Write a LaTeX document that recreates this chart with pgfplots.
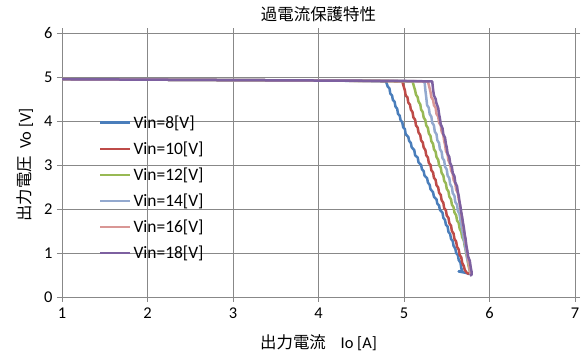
\documentclass[border=0pt]{standalone}
\usepackage{pgfplots}
\pgfplotsset{compat=1.18}
\usepackage{fontspec}
\setmainfont{Carlito}
\newfontfamily\cjk{Noto Sans CJK JP}
\definecolor{c8}{HTML}{4A7EBB}
\definecolor{c10}{HTML}{BE4B48}
\definecolor{c12}{HTML}{98B954}
\definecolor{c14}{HTML}{93A9CF}
\definecolor{c16}{HTML}{D99795}
\definecolor{c18}{HTML}{7D60A0}
\definecolor{gridc}{HTML}{888888}
\begin{document}
\begin{tikzpicture}
\useasboundingbox (0,0) rectangle (586bp,358bp);
\begin{axis}[
  at={(62bp,61bp)}, anchor=south west,
  scale only axis, width=513bp, height=264bp,
  xmin=1, xmax=7, ymin=0, ymax=6,
  xtick={1,...,7}, ytick={0,...,6},
  grid=major,
  major grid style={gridc, line width=0.9bp},
  axis line style={gridc, line width=0.9bp},
  tick style={gridc, line width=0.9bp},
  tick align=outside, major tick length=5bp,
  /pgf/number format/assume math mode=true,
  ticklabel style={font=\fontsize{16.5}{18}\selectfont},
  xticklabel style={yshift=-2bp},
  yticklabel style={xshift=-1bp},
  title={\cjk 過電流保護特性},
  title style={font=\fontsize{16.5}{18}\selectfont, at={(0.5,1)}, anchor=center, yshift=13bp},
  xlabel={\cjk 出力電流\hspace{0.9em}{\rmfamily Io [A]}},
  xlabel style={font=\fontsize{16.5}{18}\selectfont, at={(0.5,0)}, anchor=center, yshift=-46bp},
  ylabel={\cjk 出力電圧\hspace{0.45em}{\rmfamily Vo [V]}},
  ylabel style={font=\fontsize{16.5}{18}\selectfont, at={(0,0.5)}, anchor=center, yshift=37bp},
  legend style={draw=none, fill=none, at={(axis cs:1.43,4.17)}, anchor=north west,
    font=\fontsize{17.5}{19}\selectfont, row sep=8bp, inner sep=0pt},
  legend cell align=left,
  legend image code/.code={\draw[#1, line width=2.6bp] (0bp,0bp) -- (30bp,0bp);},
  every axis plot/.append style={line width=2.5bp, line join=round},
]
\addplot[c8] coordinates {
(1,4.95)(2,4.94)(3,4.93)(4,4.92)(4.6,4.91)(4.79,4.90)(4.81,4.78)(4.83,4.74)(4.84,4.62)(4.86,4.58)(4.87,4.48)(4.89,4.44)(4.90,4.33)(4.92,4.28)(4.93,4.16)(4.95,4.12)(4.96,4.02)(4.98,3.97)(4.99,3.86)(5.01,3.82)(5.02,3.70)(5.05,3.64)(5.06,3.55)(5.08,3.50)(5.09,3.40)(5.12,3.34)(5.13,3.22)(5.16,3.17)(5.17,3.06)(5.20,3.00)(5.21,2.90)(5.23,2.86)(5.24,2.76)(5.27,2.70)(5.28,2.60)(5.30,2.55)(5.31,2.45)(5.34,2.38)(5.35,2.28)(5.38,2.22)(5.39,2.12)(5.41,2.08)(5.42,1.98)(5.45,1.92)(5.46,1.80)(5.48,1.75)(5.49,1.64)(5.51,1.60)(5.52,1.48)(5.54,1.43)(5.55,1.32)(5.57,1.27)(5.58,1.16)(5.60,1.10)(5.61,1.00)(5.63,0.95)(5.64,0.84)(5.66,0.78)(5.67,0.66)(5.68,0.60)(5.64,0.58)(5.72,0.55)(5.77,0.52)};
\addlegendentry{Vin=8[V]}
\addplot[c10] coordinates {
(1,4.95)(2,4.94)(3,4.93)(4,4.92)(4.7,4.91)(4.98,4.90)(5.00,4.76)(5.01,4.70)(5.02,4.58)(5.04,4.54)(5.05,4.42)(5.07,4.37)(5.08,4.26)(5.10,4.20)(5.11,4.08)(5.13,4.03)(5.14,3.90)(5.16,3.85)(5.17,3.74)(5.19,3.68)(5.20,3.56)(5.22,3.51)(5.23,3.40)(5.25,3.34)(5.26,3.22)(5.28,3.17)(5.29,3.05)(5.31,3.00)(5.32,2.88)(5.34,2.83)(5.35,2.71)(5.37,2.66)(5.38,2.54)(5.40,2.49)(5.41,2.37)(5.43,2.32)(5.44,2.20)(5.46,2.14)(5.47,2.02)(5.49,1.97)(5.50,1.85)(5.52,1.80)(5.53,1.68)(5.55,1.62)(5.56,1.50)(5.58,1.44)(5.59,1.32)(5.61,1.26)(5.62,1.14)(5.64,1.08)(5.65,0.96)(5.67,0.90)(5.68,0.78)(5.70,0.70)(5.71,0.62)(5.73,0.56)(5.76,0.52)};
\addlegendentry{Vin=10[V]}
\addplot[c12] coordinates {
(1,4.95)(2,4.94)(3,4.93)(4,4.92)(4.8,4.91)(5.10,4.90)(5.12,4.76)(5.13,4.70)(5.14,4.60)(5.16,4.54)(5.17,4.44)(5.19,4.38)(5.20,4.26)(5.22,4.20)(5.23,4.08)(5.25,4.02)(5.26,3.90)(5.28,3.84)(5.29,3.72)(5.31,3.66)(5.32,3.54)(5.34,3.48)(5.35,3.36)(5.37,3.30)(5.38,3.18)(5.40,3.12)(5.41,3.00)(5.43,2.94)(5.44,2.82)(5.46,2.76)(5.47,2.64)(5.49,2.58)(5.50,2.46)(5.52,2.40)(5.53,2.28)(5.55,2.22)(5.56,2.10)(5.58,2.04)(5.59,1.92)(5.61,1.86)(5.62,1.74)(5.64,1.68)(5.65,1.56)(5.67,1.48)(5.68,1.36)(5.70,1.28)(5.71,1.16)(5.72,1.08)(5.73,0.96)(5.74,0.88)(5.75,0.76)(5.76,0.66)(5.77,0.58)(5.78,0.52)};
\addlegendentry{Vin=12[V]}
\addplot[c14] coordinates {
(1,4.95)(2,4.94)(3,4.93)(4,4.92)(4.9,4.91)(5.24,4.90)(5.25,4.70)(5.26,4.54)(5.27,4.36)(5.29,4.30)(5.30,4.16)(5.32,4.10)(5.33,3.96)(5.35,3.90)(5.36,3.76)(5.38,3.70)(5.39,3.56)(5.41,3.50)(5.42,3.36)(5.44,3.30)(5.45,3.16)(5.47,3.10)(5.48,2.96)(5.50,2.90)(5.51,2.76)(5.53,2.70)(5.54,2.56)(5.56,2.50)(5.57,2.36)(5.59,2.30)(5.60,2.16)(5.62,2.10)(5.63,1.96)(5.65,1.88)(5.66,1.74)(5.67,1.66)(5.68,1.52)(5.69,1.44)(5.70,1.30)(5.71,1.22)(5.72,1.08)(5.73,1.00)(5.74,0.86)(5.76,0.74)(5.77,0.62)(5.78,0.53)};
\addlegendentry{Vin=14[V]}
\addplot[c16] coordinates {
(1,4.95)(2,4.94)(3,4.93)(4,4.92)(4.9,4.91)(5.28,4.90)(5.30,4.74)(5.31,4.66)(5.32,4.54)(5.34,4.48)(5.35,4.36)(5.37,4.30)(5.38,4.16)(5.40,4.10)(5.41,3.96)(5.43,3.90)(5.44,3.76)(5.46,3.68)(5.47,3.54)(5.48,3.46)(5.49,3.32)(5.51,3.24)(5.52,3.10)(5.54,3.02)(5.55,2.88)(5.57,2.80)(5.58,2.66)(5.60,2.58)(5.61,2.44)(5.63,2.36)(5.64,2.22)(5.65,2.14)(5.66,2.00)(5.67,1.90)(5.68,1.76)(5.69,1.66)(5.70,1.50)(5.71,1.40)(5.72,1.24)(5.73,1.14)(5.74,0.98)(5.75,0.88)(5.76,0.74)(5.77,0.62)(5.78,0.52)};
\addlegendentry{Vin=16[V]}
\addplot[c18] coordinates {
(1,4.95)(2,4.94)(3,4.93)(4,4.92)(5.0,4.91)(5.33,4.90)(5.34,4.72)(5.35,4.58)(5.37,4.50)(5.38,4.40)(5.40,4.30)(5.41,4.16)(5.42,4.06)(5.43,3.92)(5.45,3.84)(5.46,3.70)(5.48,3.62)(5.49,3.48)(5.50,3.40)(5.51,3.26)(5.53,3.18)(5.54,3.04)(5.56,2.96)(5.57,2.82)(5.59,2.74)(5.60,2.60)(5.62,2.52)(5.63,2.38)(5.64,2.30)(5.65,2.16)(5.66,2.06)(5.67,1.92)(5.68,1.82)(5.69,1.68)(5.70,1.58)(5.71,1.42)(5.72,1.32)(5.73,1.16)(5.74,1.06)(5.75,0.92)(5.77,0.82)(5.78,0.68)(5.79,0.58)(5.79,0.50)(5.77,0.49)};
\addlegendentry{Vin=18[V]}
\end{axis}
\end{tikzpicture}
\end{document}
